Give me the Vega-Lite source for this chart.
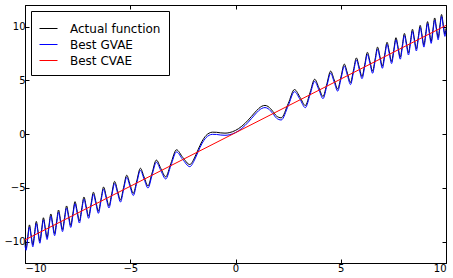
{
  "$schema": "https://vega.github.io/schema/vega-lite/v6.json",
  "width": 421,
  "height": 258,
  "autosize": "none",
  "padding": {"left": 25, "top": 5, "right": 7, "bottom": 15},
  "background": "white",
  "config": {
    "view": {"stroke": "black", "strokeWidth": 1},
    "axis": {
      "grid": false, "title": null, "domainColor": "black", "domainWidth": 1,
      "tickColor": "black", "tickSize": -4, "tickWidth": 1,
      "labelColor": "black", "labelFont": "DejaVu Sans", "labelFontSize": 10,
      "labelPadding": 4
    },
    "legend": {
      "orient": "none", "legendX": 6, "legendY": 6,
      "strokeColor": "black", "strokeWidth": 1, "fillColor": "white", "padding": 8,
      "symbolType": "stroke", "symbolSize": 324, "symbolStrokeWidth": 1,
      "labelFont": "DejaVu Sans", "labelFontSize": 12, "labelColor": "black",
      "labelOffset": 12, "rowPadding": -2, "cornerRadius": 0
    }
  },
  "datasets": {
    "curve": [
      {"x": -10, "a": -10.173, "g": -10.373},
      {"x": -9.9479, "a": -10.615, "g": -10.815},
      {"x": -9.8686, "a": -9.536, "g": -9.736},
      {"x": -9.7887, "a": -8.456, "g": -8.656},
      {"x": -9.7081, "a": -9.375, "g": -9.575},
      {"x": -9.6269, "a": -10.294, "g": -10.494},
      {"x": -9.545, "a": -9.212, "g": -9.412},
      {"x": -9.4623, "a": -8.129, "g": -8.329},
      {"x": -9.3789, "a": -9.046, "g": -9.246},
      {"x": -9.2949, "a": -9.962, "g": -10.162},
      {"x": -9.21, "a": -8.877, "g": -9.077},
      {"x": -9.1242, "a": -7.791, "g": -7.991},
      {"x": -9.0378, "a": -8.705, "g": -8.905},
      {"x": -8.9505, "a": -9.617, "g": -9.817},
      {"x": -8.8623, "a": -8.529, "g": -8.729},
      {"x": -8.7732, "a": -7.44, "g": -7.64},
      {"x": -8.6832, "a": -8.35, "g": -8.55},
      {"x": -8.5923, "a": -9.259, "g": -9.459},
      {"x": -8.5004, "a": -8.167, "g": -8.367},
      {"x": -8.4075, "a": -7.074, "g": -7.274},
      {"x": -8.3135, "a": -7.98, "g": -8.18},
      {"x": -8.2185, "a": -8.885, "g": -9.085},
      {"x": -8.1224, "a": -7.789, "g": -7.989},
      {"x": -8.0251, "a": -6.692, "g": -6.892},
      {"x": -7.9267, "a": -7.594, "g": -7.794},
      {"x": -7.827, "a": -8.494, "g": -8.694},
      {"x": -7.7259, "a": -7.393, "g": -7.593},
      {"x": -7.6236, "a": -6.291, "g": -6.491},
      {"x": -7.5199, "a": -7.187, "g": -7.387},
      {"x": -7.4147, "a": -8.082, "g": -8.282},
      {"x": -7.308, "a": -6.975, "g": -7.175},
      {"x": -7.1997, "a": -5.867, "g": -6.067},
      {"x": -7.0898, "a": -6.757, "g": -6.957},
      {"x": -6.9782, "a": -7.645, "g": -7.845},
      {"x": -6.8647, "a": -6.532, "g": -6.732},
      {"x": -6.7493, "a": -5.416, "g": -5.616},
      {"x": -6.6319, "a": -6.299, "g": -6.499},
      {"x": -6.5124, "a": -7.179, "g": -7.379},
      {"x": -6.3907, "a": -6.058, "g": -6.258},
      {"x": -6.2666, "a": -4.933, "g": -5.133},
      {"x": -6.14, "a": -5.807, "g": -6.007},
      {"x": -6.0107, "a": -6.678, "g": -6.878},
      {"x": -5.8786, "a": -5.546, "g": -5.746},
      {"x": -5.7434, "a": -4.41, "g": -4.61},
      {"x": -5.605, "a": -5.272, "g": -5.472},
      {"x": -5.4631, "a": -6.13, "g": -6.33},
      {"x": -5.3174, "a": -4.984, "g": -5.184},
      {"x": -5.1676, "a": -3.835, "g": -4.035},
      {"x": -5.0133, "a": -4.68, "g": -4.88},
      {"x": -4.8541, "a": -5.521, "g": -5.721},
      {"x": -4.6895, "a": -4.356, "g": -4.556},
      {"x": -4.5189, "a": -3.186, "g": -3.386},
      {"x": -4.3416, "a": -4.008, "g": -4.208},
      {"x": -4.1568, "a": -4.824, "g": -5.024},
      {"x": -3.9633, "a": -3.63, "g": -3.83},
      {"x": -3.7599, "a": -2.427, "g": -2.627},
      {"x": -3.5449, "a": -3.212, "g": -3.412},
      {"x": -3.316, "a": -3.983, "g": -4.183},
      {"x": -3.07, "a": -2.737, "g": -2.937},
      {"x": -2.8025, "a": -1.469, "g": -1.669},
      {"x": -2.5066, "a": -2.173, "g": -2.373},
      {"x": -2.1708, "a": -2.838, "g": -3.038},
      {"x": -1.95, "a": -2.231, "g": -2.431},
      {"x": -1.7725, "a": -1.439, "g": -1.639},
      {"x": -1.6, "a": -0.718, "g": -0.918},
      {"x": -1.4, "a": -0.142, "g": -0.342},
      {"x": -1.2533, "a": 0.08, "g": -0.12},
      {"x": -1.1, "a": 0.169, "g": -0.031},
      {"x": -0.9, "a": 0.157, "g": -0.043},
      {"x": -0.7, "a": 0.104, "g": -0.096},
      {"x": -0.5, "a": 0.08, "g": -0.12},
      {"x": -0.3, "a": 0.123, "g": -0.077},
      {"x": 0, "a": 0.333, "g": 0.133},
      {"x": 0.3, "a": 0.723, "g": 0.523},
      {"x": 0.6, "a": 1.285, "g": 1.085},
      {"x": 0.9, "a": 1.957, "g": 1.757},
      {"x": 1.1, "a": 2.369, "g": 2.169},
      {"x": 1.25, "a": 2.583, "g": 2.383},
      {"x": 1.4, "a": 2.658, "g": 2.458},
      {"x": 1.55, "a": 2.556, "g": 2.356},
      {"x": 1.7725, "a": 2.106, "g": 1.906},
      {"x": 1.95, "a": 1.669, "g": 1.469},
      {"x": 2.1708, "a": 1.504, "g": 1.304},
      {"x": 2.5066, "a": 2.84, "g": 2.64},
      {"x": 2.8025, "a": 4.136, "g": 3.936},
      {"x": 3.07, "a": 3.403, "g": 3.203},
      {"x": 3.316, "a": 2.649, "g": 2.449},
      {"x": 3.5449, "a": 3.878, "g": 3.678},
      {"x": 3.7599, "a": 5.093, "g": 4.893},
      {"x": 3.9633, "a": 4.296, "g": 4.096},
      {"x": 4.1568, "a": 3.49, "g": 3.29},
      {"x": 4.3416, "a": 4.675, "g": 4.475},
      {"x": 4.5189, "a": 5.852, "g": 5.652},
      {"x": 4.6895, "a": 5.023, "g": 4.823},
      {"x": 4.8541, "a": 4.187, "g": 3.987},
      {"x": 5.0133, "a": 5.346, "g": 5.146},
      {"x": 5.1676, "a": 6.501, "g": 6.301},
      {"x": 5.3174, "a": 5.651, "g": 5.451},
      {"x": 5.4631, "a": 4.796, "g": 4.596},
      {"x": 5.605, "a": 5.938, "g": 5.738},
      {"x": 5.7434, "a": 7.077, "g": 6.877},
      {"x": 5.8786, "a": 6.212, "g": 6.012},
      {"x": 6.0107, "a": 5.344, "g": 5.144},
      {"x": 6.14, "a": 6.473, "g": 6.273},
      {"x": 6.2666, "a": 7.6, "g": 7.4},
      {"x": 6.3907, "a": 6.724, "g": 6.524},
      {"x": 6.5124, "a": 5.846, "g": 5.646},
      {"x": 6.6319, "a": 6.965, "g": 6.765},
      {"x": 6.7493, "a": 8.083, "g": 7.883},
      {"x": 6.8647, "a": 7.198, "g": 6.998},
      {"x": 6.9782, "a": 6.312, "g": 6.112},
      {"x": 7.0898, "a": 7.423, "g": 7.223},
      {"x": 7.1997, "a": 8.533, "g": 8.333},
      {"x": 7.308, "a": 7.641, "g": 7.441},
      {"x": 7.4147, "a": 6.748, "g": 6.548},
      {"x": 7.5199, "a": 7.853, "g": 7.653},
      {"x": 7.6236, "a": 8.957, "g": 8.757},
      {"x": 7.7259, "a": 8.059, "g": 7.859},
      {"x": 7.827, "a": 7.16, "g": 6.96},
      {"x": 7.9267, "a": 8.26, "g": 8.06},
      {"x": 8.0251, "a": 9.358, "g": 9.158},
      {"x": 8.1224, "a": 8.456, "g": 8.256},
      {"x": 8.2185, "a": 7.552, "g": 7.352},
      {"x": 8.3135, "a": 8.647, "g": 8.447},
      {"x": 8.4075, "a": 9.741, "g": 9.541},
      {"x": 8.5004, "a": 8.834, "g": 8.634},
      {"x": 8.5923, "a": 7.925, "g": 7.725},
      {"x": 8.6832, "a": 9.016, "g": 8.816},
      {"x": 8.7732, "a": 10.106, "g": 9.906},
      {"x": 8.8623, "a": 9.195, "g": 8.995},
      {"x": 8.9505, "a": 8.284, "g": 8.084},
      {"x": 9.0378, "a": 9.371, "g": 9.171},
      {"x": 9.1242, "a": 10.457, "g": 10.257},
      {"x": 9.21, "a": 9.543, "g": 9.343},
      {"x": 9.2949, "a": 8.628, "g": 8.428},
      {"x": 9.3789, "a": 9.712, "g": 9.512},
      {"x": 9.4623, "a": 10.795, "g": 10.595},
      {"x": 9.545, "a": 9.878, "g": 9.678},
      {"x": 9.6269, "a": 8.96, "g": 8.76},
      {"x": 9.7081, "a": 10.041, "g": 9.841},
      {"x": 9.7887, "a": 11.122, "g": 10.922},
      {"x": 9.8686, "a": 10.202, "g": 10.002},
      {"x": 9.9479, "a": 9.281, "g": 9.081},
      {"x": 10, "a": 9.827, "g": 9.627}
    ],
    "cvae": [
      {"x": -10, "y": -9.85},
      {"x": 0, "y": 0.12},
      {"x": 10, "y": 10.1}
    ]
  },
  "layer": [
    {
      "data": {"name": "curve"},
      "mark": {"type": "line", "interpolate": "monotone", "strokeWidth": 1},
      "encoding": {
        "x": {"field": "x", "type": "quantitative", "scale": {"domain": [-10, 10], "nice": false, "zero": false}, "axis": {"orient": "bottom", "values": [-10, -5, 0, 5, 10]}},
        "y": {"field": "a", "type": "quantitative", "scale": {"domain": [-12, 12], "nice": false, "zero": false}, "axis": {"orient": "left", "values": [-10, -5, 0, 5, 10]}},
        "color": {"datum": "Actual function", "type": "nominal",
          "scale": {"domain": ["Actual function", "Best GVAE", "Best CVAE"], "range": ["#000000", "#0000ff", "#ff0000"]},
          "legend": {"title": null}}
      }
    },
    {
      "data": {"name": "curve"},
      "mark": {"type": "line", "interpolate": "monotone", "strokeWidth": 1},
      "encoding": {
        "x": {"field": "x", "type": "quantitative", "axis": {"orient": "top", "labels": false, "domain": false, "values": [-10, -5, 0, 5, 10]}},
        "y": {"field": "g", "type": "quantitative", "axis": {"orient": "right", "labels": false, "domain": false, "values": [-10, -5, 0, 5, 10]}},
        "color": {"datum": "Best GVAE", "type": "nominal"}
      }
    },
    {
      "data": {"name": "cvae"},
      "mark": {"type": "line", "strokeWidth": 1},
      "encoding": {
        "x": {"field": "x", "type": "quantitative", "axis": null},
        "y": {"field": "y", "type": "quantitative", "axis": null},
        "color": {"datum": "Best CVAE", "type": "nominal"}
      }
    }
  ],
  "resolve": {"axis": {"x": "independent", "y": "independent"}}
}
